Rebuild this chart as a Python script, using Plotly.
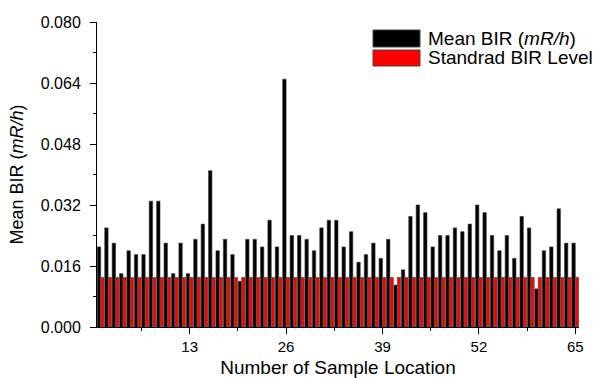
import plotly.graph_objects as go

locations = list(range(1, 66))
mean_bir = [0.021, 0.026, 0.022, 0.014, 0.020, 0.019, 0.019, 0.033, 0.033, 0.022,
            0.014, 0.022, 0.014, 0.023, 0.027, 0.041, 0.020, 0.023, 0.019, 0.012,
            0.023, 0.023, 0.021, 0.028, 0.021, 0.065, 0.024, 0.024, 0.023, 0.020,
            0.026, 0.028, 0.028, 0.021, 0.025, 0.017, 0.019, 0.022, 0.018, 0.023,
            0.011, 0.015, 0.029, 0.032, 0.030, 0.021, 0.024, 0.024, 0.026, 0.025,
            0.027, 0.032, 0.030, 0.024, 0.020, 0.024, 0.018, 0.029, 0.026, 0.010,
            0.020, 0.021, 0.031, 0.022, 0.022]
standard_level = [0.013] * 65
x_tick_vals = [13, 26, 39, 52, 65]
y_tick_vals = [0.000, 0.016, 0.032, 0.048, 0.064, 0.080]
legend_labels = ["Mean BIR (<i>mR/h</i>)", "Standrad BIR Level"]

FONT = "Liberation Sans, Arial, sans-serif"
W, H = 611, 378
L, R, T, B = 97, 32, 22, 51
pw, ph = W - L - R, H - T - B


def px_x(px):
    return (px - L) / pw


def px_y(py):
    return (H - B - py) / ph


fig = go.Figure()
fig.add_trace(go.Bar(x=locations, y=mean_bir, name=legend_labels[0],
                     marker=dict(color="#000000", line=dict(color="#3a3a3a", width=0.6))))
fig.add_trace(go.Bar(x=locations, y=standard_level, name=legend_labels[1],
                     marker=dict(color="#ff0000", line=dict(color="#555555", width=0.8))))

fig.update_layout(
    width=W, height=H,
    margin=dict(l=L, r=R, t=T, b=B, autoexpand=False),
    plot_bgcolor="white", paper_bgcolor="white",
    barmode="group", bargap=0.08, bargroupgap=0.0,
    showlegend=False,
    font=dict(family=FONT, color="black"),
)

fig.update_xaxes(
    range=[0.5, 65.5], tickvals=x_tick_vals, ticktext=[str(v) for v in x_tick_vals],
    automargin=False,
    showline=True, linecolor="black", linewidth=1, mirror=False,
    ticks="outside", ticklen=6, tickwidth=1, tickcolor="black",
    minor=dict(tickvals=[6.5, 19.5, 32.5, 45.5, 58.5], ticks="outside", ticklen=3,
               tickwidth=1, tickcolor="black", showgrid=False),
    showgrid=False, zeroline=False,
    ticklabelstandoff=0,
    tickfont=dict(size=15, family=FONT),
    title=dict(text="Number of Sample Location", font=dict(size=19, family=FONT), standoff=6),
)
fig.update_yaxes(
    range=[0, 0.08], tickvals=y_tick_vals, tickformat=".3f",
    automargin=False,
    showline=True, linecolor="black", linewidth=1, mirror=False,
    ticks="outside", ticklen=6, tickwidth=1, tickcolor="black",
    minor=dict(dtick=0.008, tick0=0, ticks="outside", ticklen=3,
               tickwidth=1, tickcolor="black", showgrid=False),
    showgrid=False, zeroline=False,
    ticklabelstandoff=6,
    tickfont=dict(size=16, family=FONT),
    title=dict(text="Mean BIR (<i>mR/h</i>)", font=dict(size=18, family=FONT), standoff=12),
)

# custom legend
boxes = [((373, 30), (420, 47), "#000000"), ((373, 50), (420, 66), "#ff0000")]
for (x0, y0), (x1, y1), col in boxes:
    fig.add_shape(type="rect", xref="paper", yref="paper",
                  x0=px_x(x0), x1=px_x(x1), y0=px_y(y1), y1=px_y(y0),
                  fillcolor=col, line=dict(color="#444444", width=1))
for label, yc in zip(legend_labels, [38.5, 58]):
    fig.add_annotation(xref="paper", yref="paper", x=px_x(427), y=px_y(yc),
                       text=label, showarrow=False, xanchor="left", yanchor="middle",
                       borderpad=0,
                       font=dict(size=19, family=FONT, color="black"))

fig.write_html("out.html", config={"displayModeBar": False},
               post_script="document.body.style.margin='0';document.body.style.overflow='hidden';")
